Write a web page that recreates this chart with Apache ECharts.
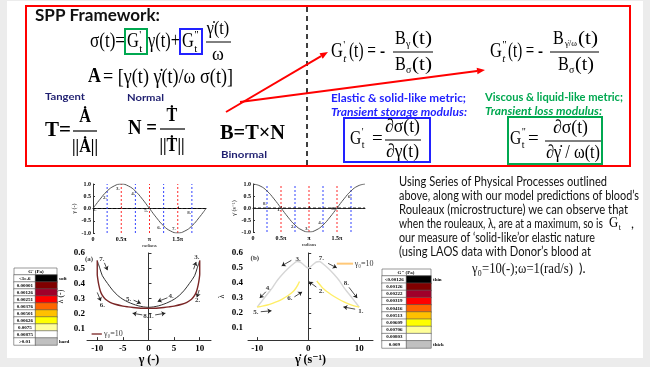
<!DOCTYPE html>
<html><head><meta charset="utf-8">
<script src="https://cdn.jsdelivr.net/npm/echarts@6/dist/echarts.min.js"></script>
<style>html,body{margin:0;padding:0;background:#ececec}#c{width:650px;height:367px}</style>
</head><body><div id="c"></div>
<script>
// ---------------- DATA ----------------
const piTickValues = [0, 0.5, 1, 1.5];
const piTickLabels = ['0', '0.5π', 'π', '1.5π'];
const phaseX = [0,0.125,0.25,0.375,0.5,0.625,0.75,0.875,1,1.125,1.25,1.375,1.5,1.625,1.75,1.875,2];
const strainY = [0,0.38,0.71,0.92,1,0.92,0.71,0.38,0,-0.38,-0.71,-0.92,-1,-0.92,-0.71,-0.38,0];
const rateY = [1,0.92,0.71,0.38,0,-0.38,-0.71,-0.92,-1,-0.92,-0.71,-0.38,0,0.38,0.71,0.92,1];
const blueMarks = [0.25, 0.75, 1.25, 1.75];
const redMarks = [0.5, 1, 1.5];
const sinNoteX = [0.03, 0.21, 0.44, 0.71, 0.94, 1.17, 1.43, 1.7];
const sinNoteY = [-0.05, 0.44, 0.8, 0.59, -0.1, -0.8, -0.84, -0.18];
const sinNoteLabels = ['1.', '2.', '3.', '4.', '5.', '6.', '7.', '8.'];
const cosNoteX = [0.21, 0.46, 0.71, 0.96, 1.2, 1.43, 1.73];
const cosNoteY = [0.17, -0.08, -0.79, -0.88, -0.63, -0.04, 0.46];
const cosNoteLabels = ['8.', '1.', '2.', '3.', '4.', '5.', '6.'];

const strainTicks = [-10, -5, 0, 5, 10];
const rateTicks = [-10, 0, 10];
const lambdaTicks = [0.1, 0.2, 0.3, 0.4, 0.5, 0.6];

const aUpperX = [-10,-9.5,-9,-8,-7,-6,-5,-4,-3,-2,-1,0,1,2,3,4,5,6,7,8,9,9.5,10];
const aUpperY = [0.55,0.5,0.45,0.4,0.355,0.32,0.295,0.277,0.263,0.252,0.245,0.242,0.245,0.252,0.263,0.277,0.295,0.32,0.355,0.4,0.45,0.5,0.55];
const aLowerX = [-10,-10,-10,-9.9,-9.7,-9.4,-9,-8.4,-7.5,-6.5,-5,-4,-3,-2,-1,0,1,2,3,4,5,6.5,7.5,8.4,9,9.4,9.7,9.9,10,10,10];
const aLowerY = [0.55,0.5,0.46,0.43,0.39,0.35,0.32,0.295,0.275,0.262,0.25,0.245,0.241,0.238,0.236,0.235,0.236,0.238,0.241,0.245,0.25,0.262,0.275,0.295,0.32,0.35,0.39,0.43,0.46,0.5,0.55];
const aNoteX = [-11.6, -9.1, -9.0, -3.9, 4.4, 0, 9.45, 9.6];
const aNoteY = [0.562, 0.562, 0.258, 0.297, 0.314, 0.184, 0.571, 0.289];
const aNoteLabels = ['(a)', '7.', '6.', '5.', '4.', '8.1.', '3.', '2.'];
const aArrowX1 = [-8.6, -10.0, -2.9, 3.7, -1.2, 1.3, 8.8, 9.9];
const aArrowY1 = [0.535, 0.34, 0.289, 0.305, 0.192, 0.192, 0.493, 0.356];
const aArrowX2 = [-8.0, -9.3, -1.5, 1.8, -3.1, 3.3, 9.3, 9.45];
const aArrowY2 = [0.487, 0.283, 0.268, 0.28, 0.203, 0.203, 0.541, 0.308];
const aLegendX = [-11.1, -9.1];
const aLegendY = [0.066, 0.066];

const bUpperX = [-10,-9.3,-8.5,-7.8,-7,-6,-5,-4,-3,-2.2,-1.6,-1,-0.5,0,0.5,1,1.6,2.2,3,4,5,6,7,7.8,8.5,9.3,10];
const bUpperY = [0.24,0.27,0.305,0.335,0.37,0.42,0.46,0.495,0.525,0.543,0.54,0.525,0.51,0.5,0.51,0.525,0.54,0.543,0.525,0.495,0.46,0.42,0.37,0.335,0.305,0.27,0.24];
const bLowLeftX = [-10,-9,-8,-7,-6,-5,-4,-3,-2.5,-2,-1.7];
const bLowLeftY = [0.24,0.246,0.254,0.265,0.278,0.295,0.315,0.342,0.362,0.39,0.41];
const bLowRightX = [1.7,2,2.5,3,4,5,6,7,8,9,10];
const bLowRightY = [0.415,0.4,0.38,0.362,0.335,0.312,0.292,0.275,0.26,0.248,0.24];
const bNoteX = [-10.45, -1.96, 2.6, -7.8, -3.6, -10.25, 2.6, 7.5, 10.3];
const bNoteY = [0.567, 0.56, 0.567, 0.367, 0.297, 0.209, 0.346, 0.398, 0.215];
const bNoteLabels = ['(b)', '3.', '7.', '4.', '6.', '5.', '2.', '8.', '1.'];
const bArrowX1 = [-3.3, 3.9, -8.3, -2.7, -9.3, 1.6, 8.0, 9.2];
const bArrowY1 = [0.551, 0.531, 0.342, 0.308, 0.209, 0.373, 0.371, 0.226];
const bArrowX2 = [-5.2, 5.6, -9.5, -1.2, -7.2, 0.15, 9.6, 6.9];
const bArrowY2 = [0.514, 0.501, 0.30, 0.341, 0.215, 0.409, 0.30, 0.241];
const bLegendX = [5.6, 8.8];
const bLegendY = [0.529, 0.529];

const colormap = ['#000000','#800000','#a0002a','#ff0000','#ff6600','#ffc000','#ffff00','#ffff99','#ffffff','#c0c0c0'];
const gpLabels = ['<1e-6','0.00001','0.00126','0.00251','0.00376','0.00501','0.00626','0.0075','0.00875','>0.01'];
const gppLabels = ['<0.00126','0.00126','0.00222','0.00319','0.00416','0.00513','0.00609','0.00706','0.00803','0.009'];

// ---------------- HELPERS ----------------
const SERIF = '"Liberation Serif","Times New Roman","DejaVu Serif",serif';
const SANS = 'Lato,"Open Sans","Liberation Sans",sans-serif';
const cv = document.createElement('canvas').getContext('2d');
function measure(t, f) { cv.font = f; return cv.measureText(t).width; }
function zip(xs, ys) { return xs.map((x, i) => [x, ys[i]]); }
function txt(x, y, text, font, fill, align, sx) {
  return { type: 'text', x: x, y: y, scaleX: sx || 1, silent: true,
    style: { text: text, font: font, fill: fill || '#000', textAlign: align || 'left', textVerticalAlign: 'middle' } };
}
function fit(x, y, text, font, w, fill, align) {
  return txt(x, y, text, font, fill, align, w / measure(text, font));
}
function hline(x1, x2, y, w, c) {
  return { type: 'line', silent: true, shape: { x1: x1, y1: y, x2: x2, y2: y }, style: { stroke: c || '#000', lineWidth: w || 1 } };
}
function box(x, y, w, h, c, lw) {
  return { type: 'rect', silent: true, shape: { x: x, y: y, width: w, height: h }, style: { fill: 'none', stroke: c, lineWidth: lw || 2 } };
}
function Gsym(x, y, size, mark, sx, italicT) {
  const f = size + 'px ' + SERIF;
  const gw = measure('G', f) * sx;
  return [
    txt(x, y, 'G', f, '#000', 'left', sx),
    txt(x + gw + 0.5, y - size * 0.36, mark, Math.round(size * 0.55) + 'px ' + SERIF),
    txt(x + gw + 0.5, y + size * 0.34, 't', (italicT ? 'italic ' : '') + Math.round(size * 0.55) + 'px ' + SERIF)
  ];
}
function arrow(x1, y1, x2, y2, c) {
  const dx = x2 - x1, dy = y2 - y1, L = Math.hypot(dx, dy), ux = dx / L, uy = dy / L;
  const bx = x2 - ux * 8, by = y2 - uy * 8, nx = -uy * 3.2, ny = ux * 3.2;
  return [
    { type: 'line', silent: true, shape: { x1: x1, y1: y1, x2: bx, y2: by }, style: { stroke: c, lineWidth: 2 } },
    { type: 'polygon', silent: true, shape: { points: [[x2, y2], [bx + nx, by + ny], [bx - nx, by - ny]] }, style: { fill: c } }
  ];
}

// ---------------- GRAPHICS (slide text) ----------------
const navy = '#1f1f70', blue = '#2222ff', green = '#00a850';
let G = [];
G.push({ type: 'rect', silent: true, shape: { x: 7, y: 1, width: 636, height: 357 }, style: { fill: '#fff' } });
G.push(box(26, 6, 604, 160, '#ff0000', 2));
G.push({ type: 'line', silent: true, shape: { x1: 307, y1: 7, x2: 307, y2: 165 }, style: { stroke: '#000', lineWidth: 1.5, lineDash: [5, 4] } });
G.push(fit(35, 16, 'SPP Framework:', 'bold 17px ' + SANS, 125, '#111'));
// row 1
G.push(fit(90, 42, 'σ(t)=', '20px ' + SERIF, 35));
G.push(box(125, 29, 22, 25, green, 2));
G = G.concat(Gsym(127, 42, 20, "'", 0.82, false));
G.push(fit(148, 42, 'γ(t)+', '20px ' + SERIF, 32));
G.push(box(180, 29, 22, 25, blue, 2));
G = G.concat(Gsym(182, 42, 20, '"', 0.82, false));
G.push(txt(218, 29, 'γ\u0307(t)', '18px ' + SERIF, '#000', 'center', 0.9));
G.push(hline(206, 231, 42, 1));
G.push(txt(218, 55, 'ω', '18px ' + SERIF, '#000', 'center'));
// row 2
G.push(txt(88, 77, 'A', 'bold 21px ' + SERIF, '#000', 'left', 0.85));
G.push(fit(103, 77, '= [γ(t) γ\u0307(t)/ω σ(t)]', '21px ' + SERIF, 130));
G.push(fit(45, 97, 'Tangent', 'bold 10px ' + SANS, 40, navy));
G.push(fit(127, 98, 'Normal', 'bold 10px ' + SANS, 37, navy));
// T, N, B
G.push(fit(45, 130, 'T=', 'bold 22px ' + SERIF, 26));
G.push(txt(85, 117, 'Ȧ', 'bold 19px ' + SERIF, '#000', 'center', 0.85));
G.push(hline(73, 97, 131, 1.2));
G.push(txt(85, 147, '||Ȧ||', 'bold 19px ' + SERIF, '#000', 'center', 0.85));
G.push(fit(128, 128, 'N =', 'bold 22px ' + SERIF, 29));
G.push(txt(172, 116, 'Ṫ', 'bold 19px ' + SERIF, '#000', 'center', 0.85));
G.push(hline(160, 185, 129, 1.2));
G.push(txt(172, 146, '||Ṫ||', 'bold 19px ' + SERIF, '#000', 'center', 0.85));
G.push(fit(220, 134, 'B=T×N', 'bold 21px ' + SERIF, 65));
G.push(fit(221, 155, 'Binormal', 'bold 10px ' + SANS, 46, navy));
// red arrows
G = G.concat(arrow(226, 112, 328, 52, '#ff0000'));
G = G.concat(arrow(240, 102, 485, 70, '#ff0000'));
// G' formula (right)
G = G.concat(Gsym(331, 52, 20, "'", 0.82, true));
G.push(fit(349, 52, '(t) = -', '20px ' + SERIF, 36));
G.push(txt(395, 39, 'B', '19px ' + SERIF, '#000', 'left', 0.85));
G.push(txt(406, 44, 'γ', '10px ' + SERIF));
G.push(fit(412, 39, '(t)', '19px ' + SERIF, 20));
G.push(hline(393, 433, 52, 1));
G.push(txt(395, 65, 'B', '19px ' + SERIF, '#000', 'left', 0.85));
G.push(txt(406, 70, 'σ', '10px ' + SERIF));
G.push(fit(412, 65, '(t)', '19px ' + SERIF, 20));
// G'' formula
G = G.concat(Gsym(490, 52, 20, '"', 0.82, true));
G.push(fit(508, 52, '(t) = -', '20px ' + SERIF, 35));
G.push(txt(553, 39, 'B', '19px ' + SERIF, '#000', 'left', 0.85));
G.push(fit(565, 44, 'γ\u0307/ω', '9px ' + SERIF, 12));
G.push(fit(578, 39, '(t)', '19px ' + SERIF, 20));
G.push(hline(550, 599, 52, 1));
G.push(txt(558, 65, 'B', '19px ' + SERIF, '#000', 'left', 0.85));
G.push(txt(569, 70, 'σ', '10px ' + SERIF));
G.push(fit(575, 65, '(t)', '19px ' + SERIF, 19));
// elastic / viscous
G.push(fit(331, 98, 'Elastic & solid-like metric;', 'bold 12px ' + SANS, 135, blue));
G.push(fit(331, 112, 'Transient storage modulus:', 'italic bold 12px ' + SANS, 136, blue));
G.push(box(344, 118, 86, 44, blue, 2));
G = G.concat(Gsym(350, 139, 19, "'", 0.82, false));
G.push(txt(372, 139, '=', '19px ' + SERIF));
G.push(fit(385, 127, '∂σ(t)', '19px ' + SERIF, 35));
G.push(hline(385, 421, 140, 1));
G.push(fit(386, 152, '∂γ(t)', '19px ' + SERIF, 33));
G.push(fit(485, 97, 'Viscous & liquid-like metric;', 'bold 12px ' + SANS, 138, green));
G.push(fit(485, 111, 'Transient loss modulus:', 'italic bold 12px ' + SANS, 117, green));
G.push(box(508, 117, 94, 47, green, 2));
G = G.concat(Gsym(510, 139, 19, '"', 0.82, false));
G.push(txt(528, 139, '=', '19px ' + SERIF));
G.push(fit(553, 128, '∂σ(t)', '19px ' + SERIF, 35));
G.push(hline(545, 601, 141, 1));
G.push(fit(546, 153, '∂γ\u0307 / ω(t)', '19px ' + SERIF, 54));
// body text
const bodyF = '13px ' + SANS, bodyC = '#111';
G.push(fit(399, 182, 'Using Series of Physical Processes outlined', bodyF, 208, bodyC));
G.push(fit(399, 196, 'above, along with our model predictions of blood’s', bodyF, 240, bodyC));
G.push(fit(399, 210, 'Rouleaux (microstructure) we can observe that', bodyF, 229, bodyC));
G.push(fit(399, 224, 'when the rouleaux, λ, are at a maximum, so is', bodyF, 204, bodyC));
G = G.concat(Gsym(609, 223, 15, "'", 0.85, false));
G.push(txt(631, 224, ',', bodyF, bodyC));
G.push(fit(399, 238, 'our measure of ‘solid-like’or elastic nature', bodyF, 196, bodyC));
G.push(fit(399, 252, '(using LAOS data with Donor’s blood at', bodyF, 192, bodyC));
G.push(fit(472, 269, 'γ₀=10(-);ω=1(rad/s)', '14px ' + SERIF, 101, bodyC));
G.push(txt(579, 269, ').', bodyF, bodyC));
// table headers & side labels
G.push({ type: 'rect', silent: true, shape: { x: 14, y: 268, width: 43, height: 7 }, style: { fill: '#fff', stroke: '#555', lineWidth: 0.6 } });
G.push(txt(36, 271.5, "G' (Pa)", 'bold 5px ' + SERIF, '#000', 'center'));
G.push(txt(59, 278.5, 'soft', 'bold 5px ' + SERIF));
G.push(txt(59, 341.5, 'hard', 'bold 5px ' + SERIF));
G.push({ type: 'rect', silent: true, shape: { x: 382, y: 269, width: 49, height: 7 }, style: { fill: '#fff', stroke: '#555', lineWidth: 0.6 } });
G.push(txt(406, 272.5, 'G" (Pa)', 'bold 5px ' + SERIF, '#000', 'center'));
G.push(txt(433, 279.6, 'thin', 'bold 5px ' + SERIF));
G.push(txt(433, 344.4, 'thick', 'bold 5px ' + SERIF));

// ---------------- CHART ----------------
const chart = echarts.init(document.getElementById('c'));
const axisLineS = { show: true, lineStyle: { color: '#333', width: 1 } };
function smallX(grid) {
  return { type: 'value', gridIndex: grid, min: 0, max: 2,
    axisLine: axisLineS, splitLine: { show: false },
    axisTick: { inside: true, length: 2, customValues: piTickValues, lineStyle: { color: '#333' } },
    axisLabel: { customValues: piTickValues, formatter: v => piTickLabels[piTickValues.indexOf(v)], fontSize: 6, fontWeight: 'bold', fontFamily: SERIF, color: '#000', margin: 3 },
    name: 'radians', nameLocation: 'middle', nameGap: 10, nameTextStyle: { fontSize: 5, fontFamily: SERIF, color: '#000' } };
}
function smallY(grid, name) {
  return { type: 'value', gridIndex: grid, min: -1, max: 1, interval: 0.5,
    axisLine: axisLineS, splitLine: { show: false },
    axisTick: { inside: true, length: 2, lineStyle: { color: '#333' } },
    axisLabel: { formatter: v => v.toFixed(1), fontSize: 6, fontWeight: 'bold', fontFamily: SERIF, color: '#000', margin: 2 },
    name: name, nameLocation: 'middle', nameGap: 14, nameRotate: 90, nameTextStyle: { fontSize: 6, fontFamily: SERIF, color: '#000' } };
}
function bigX(grid, min, max, ticks, name) {
  return { type: 'value', gridIndex: grid, min: min, max: max,
    axisLine: axisLineS, splitLine: { show: false },
    axisTick: { inside: true, length: 3, customValues: ticks, lineStyle: { color: '#333' } },
    axisLabel: { customValues: ticks, fontSize: 9, fontWeight: 'bold', fontFamily: SERIF, color: '#000', margin: 4 },
    name: name, nameLocation: 'middle', nameGap: 13, nameTextStyle: { fontSize: 12, fontWeight: 'bold', fontFamily: SERIF, color: '#000' } };
}
function bigY(grid, min, name, gap, margin) {
  return { type: 'value', gridIndex: grid, min: min, max: 0.6,
    axisLine: axisLineS, splitLine: { show: false },
    axisTick: { inside: true, length: 3, customValues: lambdaTicks, lineStyle: { color: '#333' } },
    axisLabel: { customValues: lambdaTicks, formatter: v => v.toFixed(1), fontSize: 9, fontWeight: 'bold', fontFamily: SERIF, color: '#000', margin: margin },
    name: name, nameLocation: 'middle', nameGap: gap, nameRotate: 90, nameTextStyle: { fontSize: 8, fontFamily: SERIF, color: '#000' } };
}
function catAxis(grid, data, inverse) {
  return { type: 'category', gridIndex: grid, data: data, inverse: !!inverse, show: false };
}
const series = [];
function add(s) { series.push(Object.assign({ animation: false, silent: true }, s)); return series.length - 1; }
function guide(xi, xs, ys, color, dash, w) {
  return { type: 'line', xAxisIndex: xi, yAxisIndex: xi, data: zip(xs, ys), showSymbol: false, z: 1,
    lineStyle: { color: color, type: dash, width: w }, itemStyle: { color: color } };
}
function addGuides(xi) {
  blueMarks.forEach(v => add(guide(xi, [v, v], [-1, 1], '#3344ff', [2, 2], 1)));
  redMarks.forEach(v => add(guide(xi, [v, v], [-1, 1], '#ff2a2a', [2, 2], 1)));
  add(guide(xi, [0, 2], [0, 0], '#000000', [3, 2], 0.8));
}
function notes(xi, yi, xs, ys, labels, fs) {
  return { type: 'scatter', xAxisIndex: xi, yAxisIndex: yi, symbolSize: 0.1,
    data: xs.map((x, i) => ({ value: [x, ys[i]], name: labels[i] })),
    label: { show: true, position: 'inside', formatter: '{b}', fontSize: fs, fontWeight: 'bold', fontFamily: SERIF, color: '#000' } };
}
function arrows(xi, yi, x1, y1, x2, y2) {
  return { type: 'lines', coordinateSystem: 'cartesian2d', xAxisIndex: xi, yAxisIndex: yi,
    symbol: ['none', 'arrow'], symbolSize: 4, lineStyle: { color: '#222', width: 0.8, opacity: 1 },
    data: x1.map((x, i) => ({ coords: [[x, y1[i]], [x2[i], y2[i]]] })) };
}
function line(xi, yi, xs, ys, color, w) {
  return { type: 'line', xAxisIndex: xi, yAxisIndex: yi, data: zip(xs, ys), smooth: 0.3, showSymbol: false,
    lineStyle: { color: color, width: w } , itemStyle: { color: color } };
}
// small charts
addGuides(0);
add(Object.assign(line(0, 0, phaseX, strainY, '#555', 1), { smooth: true }));
add(notes(0, 0, sinNoteX, sinNoteY, sinNoteLabels, 5));
addGuides(1);
add(Object.assign(line(1, 1, phaseX, rateY, '#555', 1), { smooth: true }));
add(notes(1, 1, cosNoteX, cosNoteY, cosNoteLabels, 5));
// chart (a)
add(line(2, 2, aUpperX, aUpperY, '#333', 1));
const aLowIdx = add(line(2, 2, aLowerX, aLowerY, '#7a2626', 1.4));
add(notes(2, 2, aNoteX, aNoteY, aNoteLabels, 7));
add(arrows(2, 2, aArrowX1, aArrowY1, aArrowX2, aArrowY2));
add(line(2, 2, aLegendX, aLegendY, '#8b4040', 1.5));
add({ type: 'scatter', xAxisIndex: 2, yAxisIndex: 2, symbolSize: 0.1, data: [{ value: [aLegendX[1] + 0.4, aLegendY[1]], name: 'γ₀=10' }],
  label: { show: true, position: 'right', distance: 0, formatter: '{b}', fontSize: 8, fontFamily: SERIF, color: '#000' } });
// chart (b)
const bUpIdx = add(line(3, 3, bUpperX, bUpperY, '#d6d6d6', 1.4));
const bL1 = add(line(3, 3, bLowLeftX, bLowLeftY, '#ffee66', 1.4));
const bL2 = add(line(3, 3, bLowRightX, bLowRightY, '#ffee66', 1.4));
add(notes(3, 3, bNoteX, bNoteY, bNoteLabels, 7));
add(arrows(3, 3, bArrowX1, bArrowY1, bArrowX2, bArrowY2));
add(line(3, 3, bLegendX, bLegendY, '#ffc878', 2));
add({ type: 'scatter', xAxisIndex: 3, yAxisIndex: 3, symbolSize: 0.1, data: [{ value: [bLegendX[1] + 0.3, bLegendY[1]], name: 'γ₀=10' }],
  label: { show: true, position: 'right', distance: 0, formatter: '{b}', fontSize: 8, fontFamily: SERIF, color: '#000' } });
// colour tables
function table(xi, yi, labels) {
  const d = [];
  labels.forEach((l, i) => { d.push([0, i, -1]); d.push([1, i, i]); });
  return { type: 'heatmap', xAxisIndex: xi, yAxisIndex: yi, data: d,
    itemStyle: { borderColor: '#555', borderWidth: 0.6 },
    label: { show: true, fontSize: 5, fontWeight: 'bold', fontFamily: SERIF, color: '#000',
      formatter: p => p.value[2] === -1 ? labels[p.value[1]] : '' } };
}
const t1 = add(table(4, 4, gpLabels));
const t2 = add(table(5, 5, gppLabels));

const rowIds = gpLabels.map((_, i) => i);
const option = {
  backgroundColor: '#ececec',
  graphic: { elements: G },
  grid: [
    { left: 93, top: 184, width: 113, height: 49, show: true, borderColor: '#444', borderWidth: 1 },
    { left: 253, top: 184, width: 112, height: 48, show: true, borderColor: '#444', borderWidth: 1 },
    { left: 87, top: 253, width: 124, height: 91, show: true, borderColor: '#333', borderWidth: 1 },
    { left: 248, top: 253, width: 125, height: 92, show: true, borderColor: '#333', borderWidth: 1 },
    { left: 14, top: 275, width: 43, height: 70 },
    { left: 382, top: 276, width: 49, height: 72 }
  ],
  xAxis: [smallX(0), smallX(1), bigX(2, -12, 12.2, strainTicks, 'γ (-)'), bigX(3, -11.8, 12.7, rateTicks, 'γ\u0307 (s⁻¹)'),
    catAxis(4, ['v', 'c']), catAxis(5, ['v', 'c'])],
  yAxis: [smallY(0, 'γ (-)'), smallY(1, 'γ\u0307 (s⁻¹)'), bigY(2, 0.026, 'λ (-)', 22, 2), bigY(3, 0.02, 'λ', 22, 5),
    catAxis(4, rowIds, true), catAxis(5, rowIds, true)],
  visualMap: [
    { type: 'piecewise', show: false, seriesIndex: aLowIdx, dimension: 1,
      pieces: [{ gt: 0.51, color: '#eeeeee' }, { gt: 0.47, lte: 0.51, color: colormap[7] }, { gt: 0.44, lte: 0.47, color: colormap[6] },
        { gt: 0.41, lte: 0.44, color: colormap[5] }, { gt: 0.37, lte: 0.41, color: '#ff8040' }, { gt: 0.33, lte: 0.37, color: '#ff3030' },
        { gt: 0.30, lte: 0.33, color: '#b01030' }, { lte: 0.30, color: '#7a2626' }] },
    { type: 'piecewise', show: false, seriesIndex: bUpIdx, dimension: 0,
      pieces: [{ lt: -7.3, color: '#f7a070' }, { gte: -7.3, lte: 7.3, color: '#d8d8d8' }, { gt: 7.3, color: '#f7a070' }] },
    { type: 'piecewise', show: false, seriesIndex: [bL1, bL2], dimension: 0,
      pieces: [{ lt: -7.2, color: '#ff9a50' }, { gte: -7.2, lt: -4.5, color: '#ffcc40' }, { gte: -4.5, lte: 4.5, color: '#fff070' },
        { gt: 4.5, lte: 7.2, color: '#ffcc40' }, { gt: 7.2, color: '#ff9a50' }] },
    { type: 'piecewise', show: false, seriesIndex: [t1, t2], dimension: 2,
      pieces: [{ value: -1, color: '#ffffff' }].concat(colormap.map((c, i) => ({ value: i, color: c }))) }
  ],
  series: series
};
chart.setOption(option);
</script>
</body></html>
